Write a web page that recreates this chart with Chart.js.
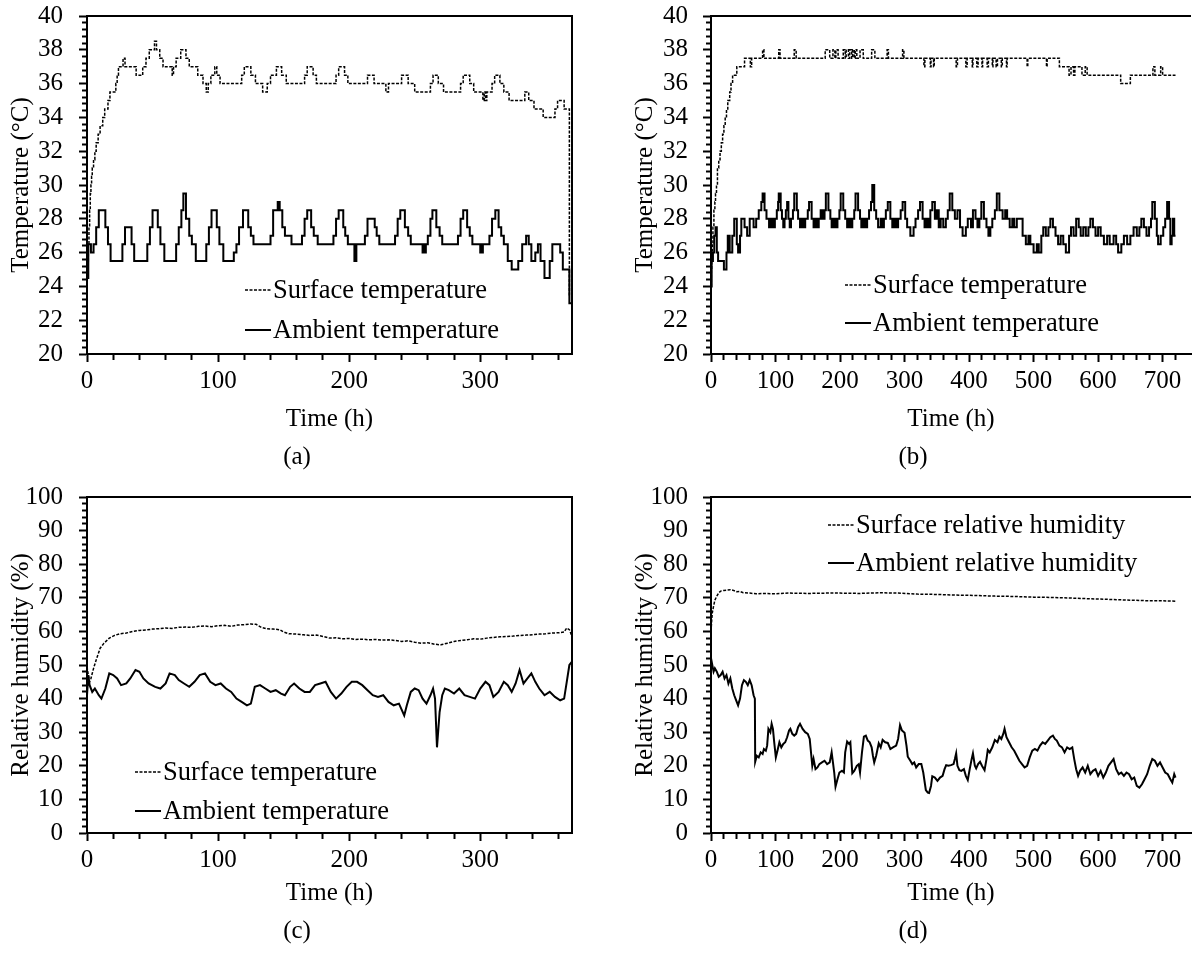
<!DOCTYPE html>
<html><head><meta charset="utf-8">
<script src="https://cdn.jsdelivr.net/npm/chart.js@4.4.1/dist/chart.umd.min.js"></script>
<style>
html,body{margin:0;padding:0;background:#fff;overflow:hidden;width:1192px;height:957px;position:relative;}
canvas{position:absolute;}
.panel{position:absolute;font-family:'Liberation Serif','Times New Roman',serif;font-size:25px;line-height:30px;height:30px;color:#000;transform:translate(-50%,-50%);white-space:nowrap;}
</style></head><body>
<canvas id="ca" width="584" height="478" style="left:0;top:0"></canvas>
<canvas id="cb" width="576" height="478" style="left:620px;top:0"></canvas>
<canvas id="cc" width="584" height="479" style="left:0;top:478px"></canvas>
<canvas id="cd" width="576" height="479" style="left:620px;top:478px"></canvas>
<div class="panel" style="left:297px;top:456px">(a)</div>
<div class="panel" style="left:913px;top:456px">(b)</div>
<div class="panel" style="left:297px;top:930px">(c)</div>
<div class="panel" style="left:913px;top:930px">(d)</div>
<script>
// ---------------- DATA ----------------
// Tick labels
const xLabelsA = [0, 100, 200, 300];
const xLabelsB = [0, 100, 200, 300, 400, 500, 600, 700];
const yLabelsTemp = [20, 22, 24, 26, 28, 30, 32, 34, 36, 38, 40];
const yLabelsRH = [0, 10, 20, 30, 40, 50, 60, 70, 80, 90, 100];

// (a) Surface temperature
const timeSurfA = [0,0.5,1,1.5,2,2.5,3,3.5,4,5,6,7,8.5,10,12,13.5,16,17.5,22,23,24,27.5,29,37.5,42.5,45,47.5,51.5,53,55.5,58,65,66,68,71.5,75.5,78,84.5,88.5,91,92.5,94.5,97.5,99,101.5,118,120,125,128.5,134,137.5,140,144.5,148.5,152,166,168,172.5,175,190,192,196.5,199,214,219,228,230,240,245,250,262,264,268,272,285,287,292,295,302,303,304,305,309,311,315,318,322,334,337,341,348,357,359,364,368,370];
const tempSurfA = [24.5,25.5,26.5,27.5,28.5,29.5,30,30.5,31,31.5,32,32.5,33,33.5,34,34.5,35,35.5,36,36.5,37,37.5,37,36.5,37,37.5,38,38.5,38,37.5,37,36.5,37,37.5,38,37.5,37,36.5,36,35.5,36,36.5,37,36.5,36,36.5,37,36.5,36,35.5,36,36.5,37,36.5,36,36.5,37,36.5,36,36.5,37,36.5,36,36.5,36,35.5,36,36.5,36,35.5,36,36.5,36,35.5,36,36.5,36,35.5,35,35.5,35,35.5,36,36.5,36,35.5,35,35.5,35,34.5,34,34.5,35,34.5,23.5,23.5];
// (a) Ambient temperature
const timeAmbA = [0,1,3,5,7,9,14,16,18,27,29,34,36,46,48,50,54,56,59,68,70,72,73.5,75.5,78,80,83,91,93,95,99,101,104,112,114,116,119,123,125,127,140,142,145.5,147,149,151,156,164,166,168,171,173,176,188,190,192,195.5,197,199,204,205.5,212,214,219.5,221,223,235,237,239,242.5,245,247,256,256.5,258,258.5,260,262,263.5,266.5,269,271,283,285,287,290,292,294,300,300.5,301.5,302,307,309,311.5,314,316,318,321,324,329,332,335,337,339,342,344,346,349,353,355,361,363,367,368,370];
const tempAmbA = [24.5,26.5,26,26.5,27.5,28.5,27.5,26.5,25.5,26.5,27.5,26.5,25.5,26.5,27.5,28.5,27.5,26.5,25.5,26.5,27.5,28.5,29.5,28,27,26.5,25.5,26.5,27.5,28.5,27.5,26.5,25.5,26,26.5,27.5,28.5,27.5,27,26.5,27,28.5,29,28.5,27.5,27,26.5,27,28,28.5,27.5,27,26.5,27,28,28.5,27.5,27,26.5,25.5,26.5,27,28,27.5,27,26.5,27,28,28.5,27.5,27,26.5,26,26.5,26,26.5,27,28,28.5,27.5,27,26.5,27,28,28.5,27.5,27,26.5,26,26.5,26,26.5,27,28,28.5,27.5,27,26.5,25.5,25,25.5,26.5,27,26.5,25.5,26,26.5,25.5,24.5,25.5,26.5,26,25,25,23,23.5];

// (b) Surface temperature
const timeSurfB = [0,0.5,1,2,3,4.5,6,7,8.5,10,12,14,16,18,20,22,24,26,29,31,33.5,40,52,61,63,80,82,105,107,129,132,177,184,189,192,193.5,197,205,208,209.5,213,215,218,219.5,222,223.5,226,231,236,249,254,273,275,297,299,330,331.5,340,341,345,346,380,382,395,397,405,406,412,414,420,421,428,430,436,437,442,444,450,451.5,458,459,490,491,520,521,540,555,558,562,564,575,580,583,635,650,685,688,697,700,720];
const tempSurfB = [24,25,25.5,26.5,27.5,28.5,29,29.5,30,31,31.5,32,32.5,33,33.5,34,34.5,35,35.5,36,36.5,37,37.5,37,37.5,38,37.5,38,37.5,38,37.5,38,37.5,38,37.5,38,37.5,38,37.5,38,37.5,38,37.5,38,37.5,38,37.5,38,37.5,38,37.5,38,37.5,38,37.5,37,37.5,37,37.5,37,37.5,37,37.5,37,37.5,37,37.5,37,37.5,37,37.5,37,37.5,37,37.5,37,37.5,37,37.5,37,37.5,37,37.5,37,37.5,37,36.5,37,36.5,37,36.5,37,36.5,36,36.5,37,36.5,37,36.5,36.5];
// (b) Ambient temperature
const timeAmbB = [0,1,3,5,7,9,11,20,24,26,29,33,36,40,42,45,47,52,56,60,66,70,74,78,80,83,86,90,93,96,99,102,104,105,108,110,112,114,116,118,120,122,124,127,129,133,135,138,140,143,146,150,152,156,159,162,164,167,170,173,176,178,182,185,187,190,193,196,199,201,205,208,211,213,216,219,222,224,228,231,233,236,239,242,245,248,250,253,256,259,263,266,268,271,274,278,281,284,287,290,294,297,301,304,309,314,317,321,324,328,331,334,337,340,343,347,350,353,356,360,364,367,370,374,378,382,386,390,395,398,403,406,410,413,416,419,423,427,430,433,436,440,443,447,452,456,459,463,467,470,474,483,488,492,495,500,505,508,512,515,519,523,526,530,534,538,542,546,550,555,558,562,566,570,573,577,581,585,588,592,596,600,604,609,614,618,624,628,631,636,640,645,650,655,660,664,667,671,675,679,682,684,688,691,693,697,701,704,707,710,712,714,716,718,720];
const tempAmbB = [24,25.5,26,27,27.5,26,25.5,25,26,27,26,27,28,26.5,26,27,28,27.5,27,28,27.5,28,28.5,29,29.5,28.5,28,27.5,28,27.5,28,28.5,29,29.5,28.5,28,27.5,28,28.5,29,28,27.5,28,28.5,29.5,28.5,28,27.5,28,27.5,28,28.5,29,28,27.5,28,27.5,28,28.5,28,28.5,29.5,28.5,28,27.5,28,27.5,28,28.5,29.5,28.5,28,27.5,28,27.5,28,28.5,29.5,28.5,28,27.5,28,27.5,28,28.5,29,30,28.5,28,27.5,28,27.5,28,28.5,29,28,27.5,28,27.5,28,28.5,29,28,27.5,27,27.5,28,28.5,29,28,27.5,28,27.5,28.5,29,28,28.5,27.5,28,27.5,28,28.5,29.5,28.5,28,28.5,27.5,27,27.5,28,27.5,28.5,28,27.5,28,29,28,27.5,27,27.5,28,28.5,29.5,28.5,28,28.5,28,27.5,28,27.5,28,27,26.5,27,26.5,26,26.5,26,27,27.5,27,27.5,28,27.5,27,26.5,27,26.5,26,27,27.5,27,28,27.5,27,27.5,27,27.5,28,27.5,27,27.5,27,26.5,27,26.5,27,26.5,26,26.5,27,26.5,27,27.5,27,27.5,28,27.5,27,27.5,28,29,28,27,26.5,27,27.5,28,29,28,26.5,27,28,27,27];

// (c) Surface (relative humidity)
const timeSurfC = [0,1,2,3,5,7,10,13,17,21,25,30,35,40,45,50,55,60,65,70,75,80,85,90,95,100,105,110,115,120,125,129,133,137,142,147,150,154,160,165,170,175,180,185,190,195,200,205,210,215,220,225,230,235,240,245,250,255,260,265,270,275,280,285,290,295,300,305,310,315,320,325,330,335,340,345,350,355,360,364,366,368,370];
const rhSurfC = [49.5,47,45,46,49,51.5,55,56.5,58,58.8,59.3,59.5,60,60.3,60.4,60.7,60.8,61,60.9,61.2,61.3,61.2,61.5,61.6,61.4,61.7,61.8,61.5,61.9,62,62.2,62.1,61.2,60.8,60.7,60.5,59.8,59.3,59.2,59,58.8,58.9,58.5,58,58.1,57.8,57.9,57.6,57.7,57.5,57.6,57.4,57.5,57.3,57,57.2,56.8,56.5,56.6,56.2,56,56.5,57,57.3,57.5,57.8,57.7,58,58.2,58.4,58.5,58.6,58.8,58.9,59,59.2,59.3,59.5,59.6,59.8,61,60.5,58.5];
// (c) Ambient (relative humidity)
const timeAmbC = [0,1,2,4,6,9,11,14,17,20,23,26,30,33,37,40,43,47,52,56,60,63,67,70,74,78,82,86,90,94,98,102,106,110,114,118,122,125,128,132,136,140,144,148,151,155,158,162,166,170,174,178,182,186,190,194,198,202,206,210,214,218,222,226,230,234,238,242,244,247,250,253,256,259,262,264,265.5,267,269,271,273,276,280,284,288,292,296,300,304,307,310,314,318,321,324,327,330,333,336,339,342,345,349,353,357,361,364,366,368,370];
const rhAmbC = [41,47,44,42,43,41,40,43,47.5,47,46,44,44.5,46,48.5,48,46,44.5,43.5,43,44.5,47.5,47,45.5,44.5,43.5,45,47,47.5,45,44,44.5,43,42,40,39,38,38.5,43.5,44,43,42,42.5,41.5,41,43.5,44.5,43,42,42,44,44.5,45,42,40,41.5,43.5,45,45,44,42.5,41,40.5,41,39,38,38.5,35,38,42,43,42.5,40,38.5,41,43,40,25.5,36,41,43,42.5,41.5,43,41,40.5,40,43,45,44,40.5,42,45,44,42,44.5,48.5,44.5,46,47.5,45,43,41,42,40.5,39.5,40,45,50,51];

// (d) Surface relative humidity
const timeSurfD = [0,1,2,4,6,9,12,15,20,25,30,35,40,45,50,60,70,80,100,120,150,180,200,230,260,290,320,350,380,410,440,470,500,530,560,590,620,650,680,700,720];
const rhSurfD = [60,63,65.5,67.5,69.3,70.5,71.5,72,72.2,72.3,72.4,72.2,71.8,71.9,71.5,71.4,71.2,71.3,71.2,71.4,71.3,71.4,71.4,71.3,71.5,71.4,71.1,71,70.8,70.7,70.5,70.4,70.2,70.1,69.9,69.7,69.5,69.3,69.1,69.1,69];
// (d) Ambient relative humidity
const timeAmbD = [0,2,4,6,9,12,15,18,21,24,27,30,33,36,39,42,45,48,51,54,57,60,63,66,68,68.5,71,74,77,80,82,85,87,89,92,94,96,98,100.5,103,106,109,112,115,118,121,123,126,129,132,135,138,142,146,150,153,155,157,159,162,165,168,172,176,180,184,187,189,191,193,196,199,203,206,208,211,214,216,219,222,226,229,231,234,237,240,243,246,249,251,253,256,260,263,266,270,274,278,282,287,290,293,296,300,303,305,309,312,315,318,322,326,329,333,336,338,341,343,347,351,355,359,362,364.5,368,372,376,378,380,382,385,388,392,395,398,401,404,406,409,411,414,417,420,424,427,429,432,436,440,444,447,450,453,455,458,462,466,470,474,478,482,486,490,494,498,502,506,510,514,518,522,526,530,533,536,540,544,548,552,556,560,563,566,569,572,576,580,584,588,592,596,600,604,608,612,616,620,624,628,632,636,640,644,648,652,656,660,664,668,672,676,680,684,688,692,696,700,704,708,712,715,718,720];
const rhAmbD = [52,50,48,49,48,46.5,47,48,46,47,44.5,46,43,41,39.5,38,40,44,45.5,45,44,45.5,44,41,40,21.2,23,22.5,24,23.5,25,24.5,26,31,30,32.5,31,27,22.5,24.5,27,25.5,26.5,27,28.5,30.5,31,29.5,29,29.5,31.5,32.5,31,30,29.5,28,24,20,22,19,19.5,20.5,21,21.5,20.5,21,24,21,18,13.8,16,18,18.5,18,24,27.2,26.5,27,17.8,18.5,20,20.5,18,24,28.7,29,27.5,27,25.5,23,21,23,26.7,25.5,27.7,27,26.8,25,25.5,26,28,32.1,30.5,29.8,26,22.7,21.5,20.5,21,19.5,20.5,20.5,18,12.8,12,11.9,14,16.9,16.5,15.5,16.5,17,19,20.2,20,20.2,20.5,22,23.7,20,18.7,18.5,19,17,15.8,19,22,23.7,20,19.2,20.5,21.2,20,18.7,22,24.7,24,25.5,27.7,27,28.7,28,29.5,31,28.5,27,25.5,24.5,23,21.5,20.5,19.5,20,22.5,24.5,25,24.5,26,27,26.5,27.5,28.5,29,28,27.5,26,25.5,24,25.5,25,25.5,22,19,17,18.5,19.5,18,20,17.5,18.5,19,17,18.5,16.5,18,20,21,22,19,17.5,18,17,18,17.5,16,16.5,14,13.5,14.5,16,17.5,20,22,21.5,20,21,19.5,18,17.5,16,15,17.5,16.5];

// ---------------- RENDERING ----------------
const FAM = "'Liberation Serif', 'Times New Roman', serif";
Chart.defaults.font.family = FAM;
Chart.defaults.font.size = 25;
Chart.defaults.color = '#000';

const pts = (xs, ys) => xs.map((x, i) => ({x: x, y: ys[i]}));
const near = (v, arr) => arr.some(m => Math.abs(m - v) < 1e-6);

function series(label, xs, ys, dashed, stepped) {
  return {
    label: label, data: pts(xs, ys),
    borderColor: '#000', backgroundColor: '#000',
    borderWidth: dashed ? 1.5 : 2, borderDash: dashed ? [3, 1.5] : [],
    pointRadius: 0, pointHoverRadius: 0, tension: 0,
    stepped: stepped ? 'before' : false, fill: false
  };
}

const frame = {
  id: 'frame',
  afterDatasetsDraw(chart, args, opts) {
    const {ctx, chartArea: {left, top, right, bottom}} = chart;
    ctx.save();
    ctx.strokeStyle = '#000'; ctx.lineWidth = 2; ctx.setLineDash([]);
    ctx.beginPath();
    ctx.moveTo(left - 1, top);
    ctx.lineTo(right, top);
    if (opts.right) ctx.lineTo(right, bottom + 1);
    ctx.stroke();
    ctx.restore();
  }
};

const insideLegend = {
  id: 'insideLegend',
  afterDatasetsDraw(chart, args, opts) {
    if (opts.dx === undefined) return;
    const {ctx, chartArea} = chart;
    const x0 = chartArea.left + opts.dx;
    ctx.save();
    ctx.font = opts.size + 'px ' + FAM;
    ctx.textBaseline = 'middle';
    ctx.fillStyle = '#000';
    chart.data.datasets.forEach((ds, i) => {
      const y = chartArea.top + opts.dy + i * opts.gap;
      ctx.beginPath();
      ctx.lineWidth = ds.borderWidth;
      ctx.strokeStyle = ds.borderColor;
      ctx.setLineDash(ds.borderDash || []);
      ctx.moveTo(x0, y); ctx.lineTo(x0 + opts.len, y);
      ctx.stroke();
      ctx.setLineDash([]);
      ctx.fillText(ds.label, x0 + opts.len + 2, y + 1);
    });
    ctx.restore();
  }
};

function makeChart(id, cfg) {
  const xMajor = cfg.xLabels, yMajor = cfg.yLabels;
  const ytl = cfg.yTickLen;
  new Chart(document.getElementById(id), {
    type: 'line',
    data: {datasets: cfg.datasets},
    plugins: [frame, insideLegend],
    options: {
      responsive: false, animation: false, devicePixelRatio: 1,
      events: [],
      layout: {padding: {top: cfg.padTop, right: cfg.padRight, left: 0, bottom: cfg.padBottom}},
      plugins: {
        legend: {display: false},
        tooltip: {enabled: false},
        title: {display: false},
        frame: {right: cfg.frameRight},
        insideLegend: cfg.legend
      },
      scales: {
        x: {
          type: 'linear', min: 0, max: cfg.xMax, bounds: 'data',
          ticks: {stepSize: 20, autoSkip: false, maxRotation: 0, minRotation: 0, padding: 4,
                  maxTicksLimit: 1000, color: '#000',
                  callback: v => near(v, xMajor) ? String(Math.round(v)) : ''},
          afterBuildTicks: s => { s.ticks = s.ticks.filter(t => t.value <= cfg.xTickMax + 1e-6 && Math.abs(t.value / 20 - Math.round(t.value / 20)) < 1e-6); },
          grid: {drawOnChartArea: false, drawTicks: true, tickLength: 8, tickWidth: 2,
                 color: '#000', tickColor: '#000',
                 tickBorderDash: c => (c.tick && near(c.tick.value, xMajor)) ? [] : [5, 100]},
          border: {display: true, color: '#000', width: 2},
          title: {display: true, text: 'Time (h)', color: '#000', padding: {top: 0, bottom: 5}},
          afterFit: s => { s.height = cfg.xHeight; }
        },
        y: {
          type: 'linear', min: cfg.yMin, max: cfg.yMax, bounds: 'data',
          ticks: {stepSize: cfg.yStep, autoSkip: false, padding: 1, maxTicksLimit: 1000, color: '#000',
                  callback: v => near(v, yMajor) ? String(Math.round(v)) : ''},
          afterBuildTicks: s => { s.ticks = s.ticks.filter(t => Math.abs(t.value / cfg.yStep - Math.round(t.value / cfg.yStep)) < 1e-6); },
          grid: {drawOnChartArea: false, drawTicks: true, tickLength: ytl, tickWidth: 2,
                 color: '#000', tickColor: '#000',
                 tickBorderDash: c => (c.tick && near(c.tick.value, yMajor)) ? [0, ytl - 8, 100] : [0, ytl - 5, 100]},
          border: {display: true, color: '#000', width: 2},
          title: {display: true, text: cfg.yTitle, color: '#000', padding: {top: cfg.yTitlePad, bottom: 0}},
          afterFit: s => { s.width = cfg.yWidth; }
        }
      }
    }
  });
}

makeChart('ca', {
  xHeight: 85, padBottom: 39,
  datasets: [series('Surface temperature', timeSurfA, tempSurfA, true, true),
             series('Ambient temperature', timeAmbA, tempAmbA, false, true)],
  xLabels: xLabelsA, yLabels: yLabelsTemp, xMax: 370, xTickMax: 360, yMin: 20, yMax: 40, yStep: 0.4,
  yTitle: 'Temperature (°C)', yTitlePad: 6, yWidth: 87, yTickLen: 23,
  padTop: 16, padRight: 12, frameRight: true,
  legend: {dx: 158, dy: 274, gap: 40, len: 26, size: 26.5}
});
makeChart('cb', {
  xHeight: 85, padBottom: 39,
  datasets: [series('Surface temperature', timeSurfB, tempSurfB, true, true),
             series('Ambient temperature', timeAmbB, tempAmbB, false, true)],
  xLabels: xLabelsB, yLabels: yLabelsTemp, xMax: 744, xTickMax: 720, yMin: 20, yMax: 40, yStep: 0.4,
  yTitle: 'Temperature (°C)', yTitlePad: 10, yWidth: 91, yTickLen: 22,
  padTop: 16, padRight: 5, frameRight: false,
  legend: {dx: 134, dy: 269, gap: 38, len: 26, size: 26.5}
});
makeChart('cc', {
  xHeight: 80, padBottom: 44,
  datasets: [series('Surface temperature', timeSurfC, rhSurfC, true, false),
             series('Ambient temperature', timeAmbC, rhAmbC, false, false)],
  xLabels: xLabelsA, yLabels: yLabelsRH, xMax: 370, xTickMax: 360, yMin: 0, yMax: 100, yStep: 2,
  yTitle: 'Relative humidity (%)', yTitlePad: 6, yWidth: 87, yTickLen: 23,
  padTop: 19, padRight: 12, frameRight: true,
  legend: {dx: 48, dy: 275, gap: 39, len: 26, size: 26.5}
});
makeChart('cd', {
  xHeight: 80, padBottom: 44,
  datasets: [series('Surface relative humidity', timeSurfD, rhSurfD, true, false),
             series('Ambient relative humidity', timeAmbD, rhAmbD, false, false)],
  xLabels: xLabelsB, yLabels: yLabelsRH, xMax: 744, xTickMax: 720, yMin: 0, yMax: 100, yStep: 2,
  yTitle: 'Relative humidity (%)', yTitlePad: 10, yWidth: 91, yTickLen: 22,
  padTop: 19, padRight: 5, frameRight: false,
  legend: {dx: 117, dy: 28, gap: 38, len: 26, size: 26.5}
});
</script>
</body></html>
